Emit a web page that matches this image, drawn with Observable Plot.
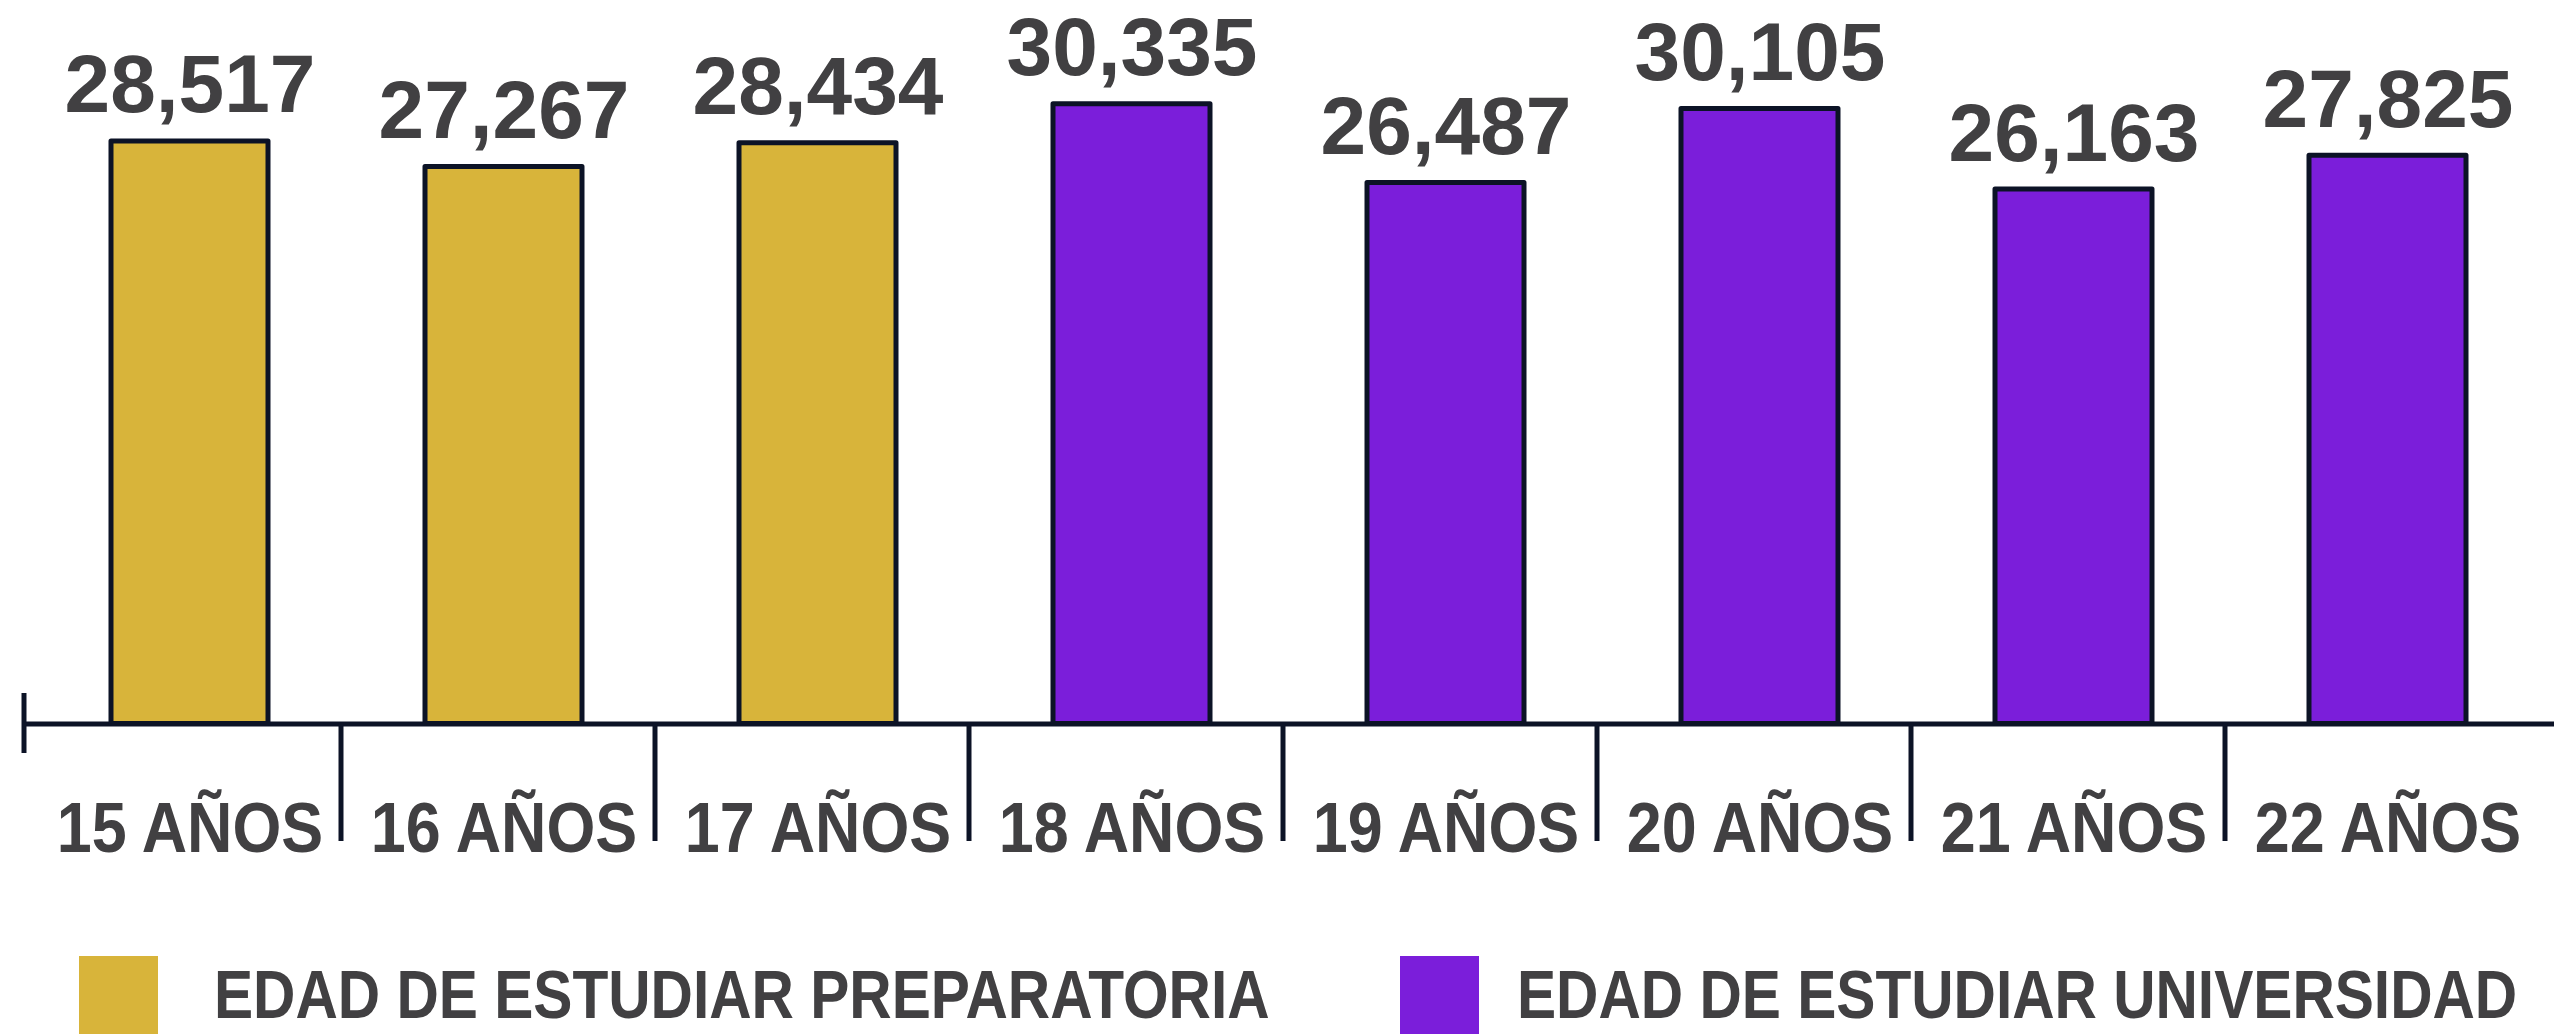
<!DOCTYPE html>
<html>
<head>
<meta charset="utf-8">
<script src="https://cdn.jsdelivr.net/npm/d3@7"></script>
<script src="https://cdn.jsdelivr.net/npm/@observablehq/plot@0.6"></script>
<style>
  html, body { margin: 0; padding: 0; background: #ffffff; overflow: hidden; width: 2554px; height: 1034px; }
  #chart svg { display: block; }
  .legend { position: relative; height: 94px; width: 2554px; }
  .sw { position: absolute; top: 16px; width: 79px; height: 79px; }
  .lt { position: absolute; top: 21px; font-family: "Liberation Sans", Arial, sans-serif;
        font-weight: bold; font-size: 68.5px; line-height: 68.5px; color: #414042; white-space: nowrap;
        transform: scaleX(0.856); transform-origin: 0 50%; }
</style>
</head>
<body>
<div id="chart"></div>
<div class="legend" id="legend"></div>
<script>
// ---- data ----
const categories = ["15 AÑOS", "16 AÑOS", "17 AÑOS", "18 AÑOS", "19 AÑOS", "20 AÑOS", "21 AÑOS", "22 AÑOS"];
const values = [28517, 27267, 28434, 30335, 26487, 30105, 26163, 27825];
const groupNames = ["EDAD DE ESTUDIAR PREPARATORIA", "EDAD DE ESTUDIAR UNIVERSIDAD"];
const groupOfBar = [0, 0, 0, 1, 1, 1, 1, 1];
const groupColors = ["#D8B43A", "#7B1EDA"];

const fmt = d3.format(",");
const data = categories.map((c, i) => ({
  age: c, value: values[i], group: groupNames[groupOfBar[i]], label: fmt(values[i])
}));

// ---- layout ----
const W = 2554, H = 940;
const mT = 5.5, mB = 216.5, mL = 31, mR = 8.4;
const ink = "#0c1326";
const textInk = "#414042";
const font = "'Liberation Sans', Arial, sans-serif";

const chart = Plot.plot({
  width: W, height: H,
  marginTop: mT, marginBottom: mB, marginLeft: mL, marginRight: mR,
  x: { type: "band", domain: categories, paddingInner: 0.5, paddingOuter: 0.25, axis: null },
  y: { domain: [0, 35150], axis: null },
  color: { domain: groupNames, range: groupColors },
  marks: [
    Plot.ruleY([0], { stroke: ink, strokeWidth: 5, insetLeft: -9, insetRight: -12 }),
    Plot.barY(data, { x: "age", y: "value", fill: "group", stroke: ink, strokeWidth: 5, strokeLinejoin: "round" }),
    // separator ticks between categories
    Plot.ruleX(categories.slice(0, -1), { x: d => d, dx: 151, stroke: ink, strokeWidth: 5,
      insetTop: H - mB - mT, insetBottom: -117.5 }),
    // left end tick
    Plot.ruleX([categories[0]], { x: d => d, dx: -166, stroke: ink, strokeWidth: 5,
      insetTop: H - mB - mT - 30.5, insetBottom: -29.5 }),
    // value labels
    Plot.text(data, { x: "age", y: "value", text: "label", lineAnchor: "bottom", dy: -29,
      fontSize: 82, fontWeight: "bold", fontFamily: font, fill: textInk }),
    // category labels
    Plot.text(categories, { x: d => d, frameAnchor: "bottom", lineAnchor: "top", dy: 77.8,
      fontSize: 71, fontWeight: "bold", fontFamily: font, fill: textInk })
  ]
});
document.getElementById("chart").appendChild(chart);

// condense category labels horizontally (narrow display face in the original)
const textGroups = chart.querySelectorAll('g[aria-label="text"]');
const tickGroup = textGroups[textGroups.length - 1];
tickGroup.querySelectorAll("text").forEach(t => {
  const tr = t.getAttribute("transform") || "";
  t.setAttribute("transform", (tr + " scale(0.885,1)").trim());
});

// ---- legend ----
const legend = document.getElementById("legend");
const swatchLeft = [78.6, 1400];
const textLeft = [214, 1517];
groupNames.forEach((name, i) => {
  const sw = document.createElement("div");
  sw.className = "sw";
  sw.style.left = swatchLeft[i] + "px";
  sw.style.background = groupColors[i];
  legend.appendChild(sw);
  const t = document.createElement("div");
  t.className = "lt";
  t.style.left = textLeft[i] + "px";
  t.textContent = name;
  legend.appendChild(t);
});
</script>
</body>
</html>
